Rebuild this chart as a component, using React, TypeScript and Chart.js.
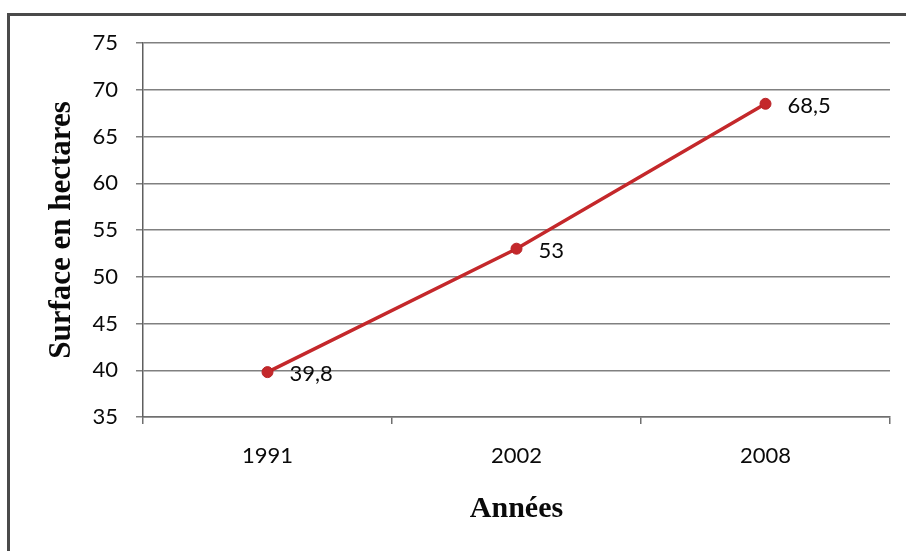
import React, { useEffect, useRef } from "react";
import { Chart, registerables } from "chart.js";

Chart.register(...registerables);

const categories: string[] = ["1991", "2002", "2008"];
const surfaceValues: number[] = [39.8, 53, 68.5];
const yMin = 35;
const yMax = 75;
const yStep = 5;
const xTitle = "Années";
const yTitle = "Surface en hectares";

const TICK_FONT = "Lato, 'Open Sans', sans-serif";
const TITLE_FONT = "'Liberation Serif', 'Times New Roman', serif";

const dataLabelPlugin = {
  id: "pointValueLabels",
  afterDatasetsDraw(chart: any) {
    const ctx = chart.ctx;
    const meta = chart.getDatasetMeta(0);
    const values = chart.data.datasets[0].data as number[];
    ctx.save();
    ctx.font = `22px ${TICK_FONT}`;
    ctx.fillStyle = "#0a0a0a";
    ctx.textAlign = "left";
    ctx.textBaseline = "middle";
    meta.data.forEach((pt: any, i: number) => {
      const label = String(values[i]).replace(".", ",");
      ctx.fillText(label, pt.x + 22, pt.y + 2);
    });
    ctx.restore();
  },
};

export default function App() {
  const canvasRef = useRef<HTMLCanvasElement | null>(null);

  useEffect(() => {
    if (!canvasRef.current) return;
    const chart = new Chart(canvasRef.current, {
      type: "line",
      data: {
        labels: categories,
        datasets: [
          {
            data: surfaceValues,
            borderColor: "#c4282b",
            backgroundColor: "#c4282b",
            borderWidth: 3.5,
            pointRadius: 5.5,
            pointBackgroundColor: "#c4282b",
            pointBorderColor: "#b82226",
            pointBorderWidth: 1,
            tension: 0,
          },
        ],
      },
      options: {
        responsive: false,
        animation: false,
        devicePixelRatio: 1,
        layout: { padding: { top: 43, right: 16, bottom: 0, left: 0 } },
        plugins: {
          legend: { display: false },
          tooltip: { enabled: false },
        },
        scales: {
          x: {
            type: "category",
            offset: true,
            grid: {
              offset: true,
              drawOnChartArea: false,
              drawTicks: true,
              tickLength: 7,
              color: "#6f6f6f",
              lineWidth: 1.5,
            },
            border: { display: true, color: "#6f6f6f", width: 1.5 },
            ticks: {
              font: { family: TICK_FONT, size: 22 },
              color: "#0a0a0a",
              padding: 19,
              maxRotation: 0,
            },
            title: {
              display: true,
              text: xTitle,
              font: { family: TITLE_FONT, size: 30, weight: "bold" },
              color: "#0a0a0a",
              padding: { top: 0, bottom: 24 },
            },
            afterFit(scale: any) {
              scale.height = 134;
            },
          },
          y: {
            min: yMin,
            max: yMax,
            ticks: {
              stepSize: yStep,
              font: { family: TICK_FONT, size: 22 },
              color: "#0a0a0a",
              padding: 18,
            },
            grid: {
              color: "#808080",
              lineWidth: 1.5,
              drawTicks: true,
              tickLength: 7,
            },
            border: { display: true, color: "#5f5f5f", width: 1.5 },
            title: {
              display: true,
              text: yTitle,
              font: { family: TITLE_FONT, size: 31, weight: "bold" },
              color: "#0a0a0a",
              padding: { top: 43, bottom: 0 },
            },
            afterFit(scale: any) {
              scale.width = 143;
            },
          },
        },
      },
      plugins: [dataLabelPlugin],
    });
    return () => chart.destroy();
  }, []);

  return (
    <div
      style={{
        position: "absolute",
        left: 0,
        top: 0,
        width: 906,
        height: 551,
        overflow: "hidden",
        background: "#ffffff",
      }}
    >
      <div
        style={{
          position: "absolute",
          left: 7,
          top: 13,
          width: 920,
          height: 580,
          border: "3px solid #4a4a4a",
          boxSizing: "border-box",
        }}
      />
      <canvas
        ref={canvasRef}
        width={906}
        height={551}
        style={{ position: "absolute", left: 0, top: 0, width: 906, height: 551 }}
      />
    </div>
  );
}
